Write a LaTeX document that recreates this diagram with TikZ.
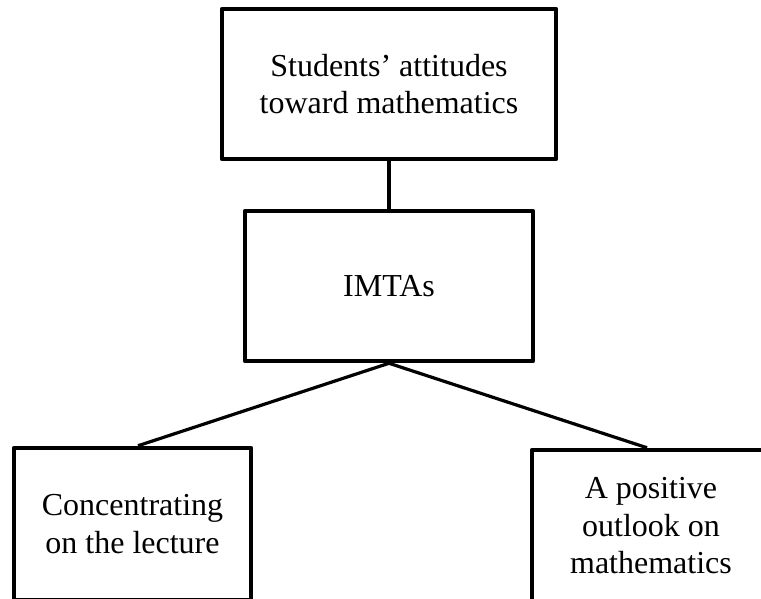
\documentclass[tikz,border=0pt]{standalone}
\usepackage{fontspec}
\setmainfont{Liberation Serif}
\begin{document}
\begin{tikzpicture}[x=1pt,y=-1pt,
  box/.style={draw, line width=4.5pt, line join=round, align=center,
    font=\fontsize{32}{37.5}\selectfont, inner sep=0pt},
  link/.style={line width=3.2pt}]
  \useasboundingbox (0,0) rectangle (761,598);
  \clip (0,0) rectangle (761,598);
  % boxes
  \node[box, minimum width=334pt, minimum height=150pt] (att) at (389,84)
    {Students’ attitudes\\toward mathematics};
  \node[box, minimum width=288pt, minimum height=150pt] (imta) at (389,286)
    {IMTAs};
  \node[box, minimum width=237pt, minimum height=152pt] (conc) at (132.5,524)
    {Concentrating\\on the lecture};
  \node[box, minimum width=238pt, minimum height=152pt] (pos) at (651,526)
    {A positive\\outlook on\\mathematics};
  % connectors
  \draw[link] (att.south) -- (imta.north);
  \draw[link] (imta.south) -- ([xshift=5.5pt]conc.north);
  \draw[link] (imta.south) -- ([xshift=-4pt]pos.north);
\end{tikzpicture}
\end{document}
